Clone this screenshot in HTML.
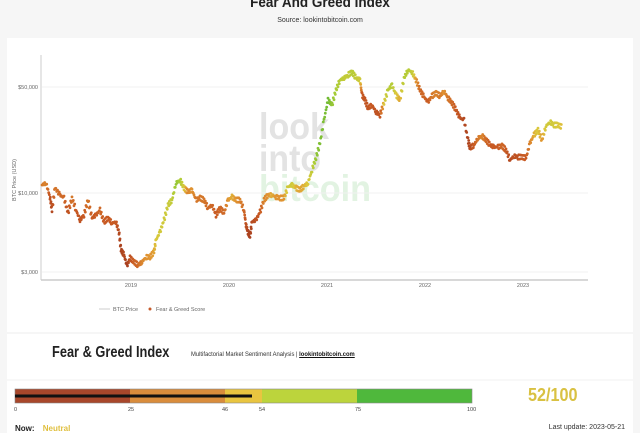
<!DOCTYPE html>
<html><head><meta charset="utf-8"><style>
body{margin:0;width:640px;height:433px;background:#f6f6f6;font-family:"Liberation Sans",sans-serif;position:relative;overflow:hidden}
.t{position:absolute;white-space:nowrap}
</style></head><body>
<div class="t" style="left:0;width:640px;top:-6px;text-align:center;font-weight:bold;font-size:15px;color:#222;transform:scaleX(0.9)">Fear And Greed Index</div>
<div class="t" style="left:0;width:640px;top:17px;text-align:center;font-size:7px;color:#333">Source: lookintobitcoin.com</div>
<div style="position:absolute;left:7px;top:38px;width:626px;height:395px;background:#fff"></div>
<svg style="position:absolute;left:0;top:0" width="640" height="433" id="s">
<g font-family="Liberation Sans,sans-serif" font-weight="bold" font-size="37" fill="#e3e3e3">
<text x="259" y="139" textLength="70" lengthAdjust="spacingAndGlyphs">look</text><text x="259" y="171" textLength="62" lengthAdjust="spacingAndGlyphs">into</text><text x="259" y="201" fill="#e2f3e2" textLength="112" lengthAdjust="spacingAndGlyphs">bitcoin</text></g>
<line x1="42" y1="87" x2="588" y2="87" stroke="#f0f0f0"/>
<line x1="42" y1="193" x2="588" y2="193" stroke="#f0f0f0"/>
<line x1="42" y1="272" x2="588" y2="272" stroke="#f0f0f0"/>
<line x1="41" y1="55" x2="41" y2="280" stroke="#ccc"/>
<line x1="41" y1="280" x2="588" y2="280" stroke="#ccc" stroke-width="1.5"/>
<g font-size="5.5" fill="#666" font-family="Liberation Sans,sans-serif">
<text x="38" y="89" text-anchor="end">$50,000</text>
<text x="38" y="195" text-anchor="end">$10,000</text>
<text x="38" y="274" text-anchor="end">$3,000</text>
<text x="131" y="287" text-anchor="middle">2019</text><text x="229" y="287" text-anchor="middle">2020</text>
<text x="327" y="287" text-anchor="middle">2021</text><text x="425" y="287" text-anchor="middle">2022</text>
<text x="523" y="287" text-anchor="middle">2023</text>
<text transform="translate(16,180) rotate(-90)" text-anchor="middle">BTC Price (USD)</text>
<line x1="99" y1="309" x2="110" y2="309" stroke="#ccc"/><text x="113" y="311">BTC Price</text>
<circle cx="150" cy="309" r="1.5" fill="#c55a2a"/><text x="156" y="311">Fear &amp; Greed Score</text>
</g>
<g id="pts"></g>
<line x1="7" y1="333" x2="633" y2="333" stroke="#eee"/>
<line x1="7" y1="380" x2="633" y2="380" stroke="#f2f2f2"/>
<rect x="15" y="389" width="115" height="14" fill="#a8472b"/>
<rect x="130" y="389" width="95" height="14" fill="#d98c3c"/>
<rect x="225" y="389" width="37" height="14" fill="#e9c540"/>
<rect x="262" y="389" width="95" height="14" fill="#bcd43c"/>
<rect x="357" y="389" width="115" height="14" fill="#4fb83c"/>
<rect x="15" y="389" width="457" height="14" fill="none" stroke="#888" stroke-width="0.6"/>
<line x1="15" y1="396" x2="252" y2="396" stroke="#111" stroke-width="3"/>
<g font-size="5.5" fill="#444" font-family="Liberation Sans,sans-serif">
<text x="14" y="411">0</text><text x="128" y="411">25</text><text x="222" y="411">46</text><text x="259" y="411">54</text><text x="355" y="411">75</text><text x="467" y="411">100</text></g>
</svg>
<div class="t" style="left:52px;top:344px;font-weight:bold;font-size:16px;color:#222;transform-origin:0 0;transform:scaleX(0.8)">Fear &amp; Greed Index</div>
<div class="t" style="left:191px;top:351px;font-size:6.5px;color:#333;transform-origin:0 0;transform:scaleX(0.9)">Multifactorial Market Sentiment Analysis | <b style="text-decoration:underline;color:#111">lookintobitcoin.com</b></div>
<div class="t" style="left:528px;top:385px;font-weight:bold;font-size:18px;color:#d9c142;transform-origin:0 0;transform:scaleX(0.9)">52/100</div>
<div class="t" style="left:15px;top:424px;font-weight:bold;font-size:8px;color:#222">Now: <span style="color:#e0c040;margin-left:6px">Neutral</span></div>
<div class="t" style="right:15px;top:424px;font-size:7px;color:#333">Last update: 2023-05-21</div>
<script>
var P=[[42,185,35],[46,183,40],[50,197,20],[52,210,15],[55,188,35],[60,195,30],[64,198,30],[68,213,20],[72,198,35],[76,210,25],[80,220,20],[84,215,25],[88,200,35],[92,218,25],[96,215,25],[100,210,30],[104,222,25],[108,218,25],[112,223,25],[116,222,25],[119,232,15],[121,250,10],[124,255,15],[127,266,8],[130,258,20],[134,262,28],[138,265,30],[142,262,40],[146,257,45],[150,257,45],[154,252,48],[156,240,55],[160,232,58],[164,220,60],[168,205,62],[172,200,65],[176,183,80],[180,180,75],[184,188,55],[188,192,40],[192,190,45],[196,200,35],[200,198,35],[204,200,35],[208,208,30],[212,205,30],[216,215,25],[220,208,30],[224,213,30],[228,200,45],[232,197,50],[236,200,45],[240,200,40],[244,210,30],[246,225,20],[248,232,12],[250,236,10],[252,222,15],[256,220,20],[260,212,25],[264,200,40],[268,195,45],[272,195,50],[276,197,45],[280,198,45],[284,198,45],[288,187,60],[292,185,60],[296,188,50],[300,190,48],[304,186,50],[308,183,55],[312,170,65],[316,158,80],[320,143,85],[324,120,85],[328,100,88],[332,105,80],[336,90,75],[340,80,70],[344,78,65],[348,75,65],[352,72,70],[356,78,65],[360,80,60],[362,95,25],[365,100,22],[368,108,22],[372,105,25],[376,112,20],[380,115,22],[384,103,55],[388,90,68],[392,85,70],[396,95,55],[400,100,48],[404,78,70],[408,70,70],[412,72,65],[416,80,45],[420,90,30],[424,97,30],[428,102,25],[432,96,35],[436,93,40],[440,96,35],[444,91,45],[448,98,35],[452,103,30],[456,110,25],[460,118,20],[464,120,15],[468,140,12],[470,148,15],[474,145,25],[478,138,35],[482,136,40],[486,140,30],[490,145,25],[494,147,25],[498,147,25],[502,146,30],[506,150,25],[510,160,15],[514,156,20],[518,157,20],[522,157,25],[526,158,25],[530,143,40],[534,135,50],[538,130,55],[542,140,45],[546,126,58],[550,122,60],[554,125,58],[558,125,55],[562,127,52]];
function col(v){var s=[[0,[150,50,30]],[25,[200,90,35]],[46,[225,150,50]],[54,[220,200,60]],[75,[170,205,55]],[100,[60,170,50]]];for(var i=0;i<s.length-1;i++)if(v<=s[i+1][0]){var t=(v-s[i][0])/(s[i+1][0]-s[i][0]),a=s[i][1],b=s[i+1][1];return'rgb('+a.map((x,j)=>Math.round(x+(b[j]-x)*t)).join(',')+')'}}
var h='';for(var i=0;i<P.length-1;i++){var a=P[i],b=P[i+1];for(var k=0;k<6;k++){var t=k/6,x=a[0]+(b[0]-a[0])*t,y=a[1]+(b[1]-a[1])*t+Math.sin(i*7+k*3)*2.2;h+='<circle cx="'+x.toFixed(1)+'" cy="'+y.toFixed(1)+'" r="1.4" fill="'+col(a[2]+(b[2]-a[2])*t)+'"/>';}}
document.getElementById('pts').innerHTML=h;
</script>
</body></html>
